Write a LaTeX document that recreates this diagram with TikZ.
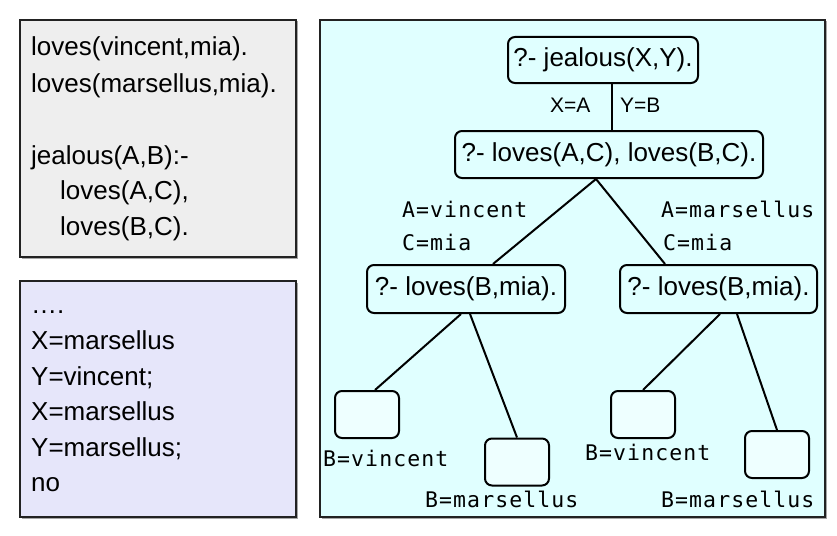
\documentclass[tikz,border=0pt]{standalone}
\usepackage{fontspec}
\setmainfont{Liberation Sans}
\newfontfamily\monof[LetterSpace=5]{DejaVu Sans Mono}
\definecolor{graybg}{HTML}{EEEEEE}
\definecolor{lavbg}{HTML}{E6E6FA}
\definecolor{cyanbg}{HTML}{E0FFFF}
\definecolor{leafc}{HTML}{EEFFFF}
\definecolor{rim}{HTML}{222222}
\begin{document}
\begin{tikzpicture}[x=1pt,y=-1pt,
  outerbox/.style={draw=rim, line width=1.5pt},
  goal/.style={draw, line width=2pt, rounded corners=7pt, fill=cyanbg, inner sep=0pt,
    minimum height=47pt, font=\fontsize{26}{30}\selectfont},
  leaf/.style={draw, line width=2pt, rounded corners=7pt, fill=leafc, inner sep=0pt,
    minimum width=64pt, minimum height=47pt},
  edge/.style={line width=2pt},
  code/.style={anchor=base west, inner sep=0pt, font=\fontsize{26}{30}\selectfont},
  sub/.style={anchor=base west, inner sep=0pt, font=\monof\fontsize{21.5}{25}\selectfont},
  eq/.style={anchor=base west, inner sep=0pt, font=\fontsize{21}{25}\selectfont}]
\useasboundingbox (0,0) rectangle (837,535);
% panels
\fill[black!35] (21.5,21.5) rectangle (297.5,258.5);
\fill[black!35] (21.5,282.5) rectangle (297.5,518.5);
\fill[black!35] (321.5,21.5) rectangle (826.5,518.5);
\draw[outerbox, fill=graybg] (20,20) rectangle (296,257);
\draw[outerbox, fill=lavbg] (20,281) rectangle (296,517);
\draw[outerbox, fill=cyanbg] (320,20) rectangle (825,517);
% program
\node[code] (c1) at (31,56) {loves(vincent,mia).};
\node[code] (c2) at (31,92) {loves(marsellus,mia).};
\node[code] (c3) at (31,164) {jealous(A,B):-};
\node[code] (c4) at (60,199) {loves(A,C),};
\node[code] (c5) at (60,235) {loves(B,C).};
% answers
\node[code] (r1) at (31,313) {….};
\node[code] (r2) at (31,349) {X=marsellus};
\node[code] (r3) at (31,385) {Y=vincent;};
\node[code] (r4) at (31,420) {X=marsellus};
\node[code] (r5) at (31,456) {Y=marsellus;};
\node[code] (r6) at (31,491) {no};
% tree
\node[goal, minimum width=190pt, minimum height=46pt] (n0) at (603,60) {?- jealous(X,Y).};
\node[goal, minimum width=308pt] (n1) at (609,154.5) {?- loves(A,C), loves(B,C).};
\node[goal, minimum width=198pt, minimum height=48pt] (n2) at (466,289) {?- loves(B,mia).};
\node[goal, minimum width=197pt, minimum height=48pt] (n3) at (718.5,289) {?- loves(B,mia).};
\node[leaf] (ll) at (367,414.5) {};
\node[leaf, minimum height=47pt] (lr) at (517,462) {};
\node[leaf] (rl) at (643,414.5) {};
\node[leaf] (rr) at (777,454.5) {};
\coordinate (vx) at (612,0);
\draw[edge] (n0.south -| vx) -- (n1.north -| vx);
\draw[edge] ([xshift=-13pt]n1.south) -- ([xshift=27pt]n2.north);
\draw[edge] ([xshift=-13pt]n1.south) -- ([xshift=-53.5pt]n3.north);
\draw[edge] ([xshift=-5pt]n2.south) -- ([xshift=8pt]ll.north);
\draw[edge] ([xshift=4pt]n2.south) -- (lr.north);
\draw[edge] ([xshift=1.5pt]n3.south) -- (rl.north);
\draw[edge] ([xshift=18.5pt]n3.south) -- (rr.north);
% labels
\node[eq] (xa) at (550,112) {X=A};
\node[eq] (yb) at (620,112) {Y=B};
\node[sub] (l1) at (402,217) {A=vincent};
\node[sub] (l2) at (402,250) {C=mia};
\node[sub] (l3) at (661,217) {A=marsellus};
\node[sub] (l4) at (663,250) {C=mia};
\node[sub] (l5) at (323,466) {B=vincent};
\node[sub] (l6) at (425,507) {B=marsellus};
\node[sub] (l7) at (585,460) {B=vincent};
\node[sub] (l8) at (661,507) {B=marsellus};
\end{tikzpicture}
\end{document}
